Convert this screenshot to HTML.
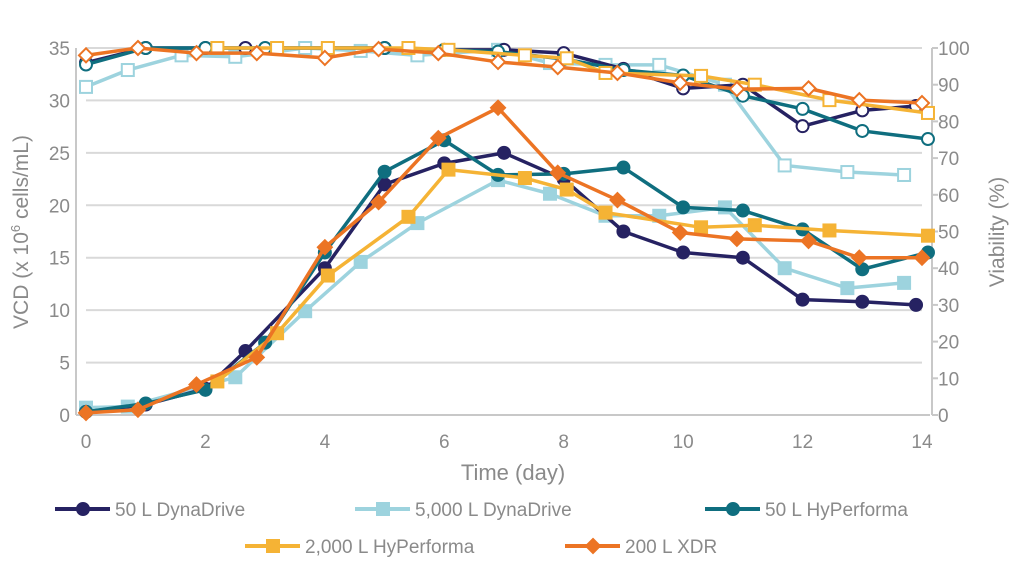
<!DOCTYPE html>
<html><head><meta charset="utf-8"><style>
body{margin:0;background:#fff;}
svg{display:block;font-family:"Liberation Sans",sans-serif;}
</style></head><body>
<svg id="chart" width="1020" height="573" viewBox="0 0 1020 573"></svg>
<script>
const xTicks=[0,2,4,6,8,10,12,14];
const yTicks=[0,5,10,15,20,25,30,35];
const y2Ticks=[0,10,20,30,40,50,60,70,80,90,100];
const seriesNames=["50 L DynaDrive","5,000 L DynaDrive","50 L HyPerforma","2,000 L HyPerforma","200 L XDR"];
const dd50VcdDays=[0,1,2,2.67,4,5,6,7,8,9,10,11,12,13,13.9];
const dd50Vcd=[0.3,1.0,2.5,6.1,14,22,24,25,22.5,17.5,15.5,15,11,10.8,10.5];
const dd50ViaDays=[0,1,2,2.67,5,6,7,8,9,10,11,12,13,13.9];
const dd50Via=[96,100,100,100,100,99.5,99.5,98.6,94.3,89,90,78.7,83,84.2];
const dd5kVcdDays=[0,0.7,2.5,3.67,4.6,5.55,6.9,7.77,8.7,9.6,10.7,11.7,12.75,13.7];
const dd5kVcd=[0.7,0.8,3.6,9.9,14.6,18.3,22.4,21.1,19,19,19.8,14,12.1,12.6];
const dd5kViaDays=[0,0.7,1.6,2.5,3.67,4.6,5.55,6.9,7.77,8.7,9.6,10.7,11.7,12.75,13.7];
const dd5kVia=[89.4,94,98,97.6,100,99.2,98,99.5,95.9,95.4,95.4,90,68,66.2,65.4];
const hp50VcdDays=[0,1,2,3,4,5,6,6.9,8,9,10,11,12,13,14.1];
const hp50Vcd=[0.3,1.1,2.4,6.9,15.5,23.2,26.2,22.9,23,23.6,19.8,19.5,17.7,13.9,15.5];
const hp50ViaDays=[0,1,2,3,5,6,6.9,8,9,10,11,12,13,14.1];
const hp50Via=[95.5,100,100,100,100,99.5,99,97,94,92.5,87,83.4,77.4,75.2];
const hp2kVcdDays=[2.2,3.2,4.05,5.4,6.07,7.35,8.05,8.7,10.3,11.2,12.45,14.1];
const hp2kVcd=[3.2,7.8,13.3,18.9,23.4,22.6,21.5,19.3,17.9,18.1,17.6,17.1];
const hp2kViaDays=[2.2,3.2,4.05,5.4,6.07,7.35,8.05,8.7,10.3,11.2,12.45,14.1];
const hp2kVia=[100,100,100,100,99.5,98,97.2,93.2,92.4,90,85.8,82.3];
const xdrVcdDays=[0,0.87,1.85,2.86,4,4.9,5.9,6.9,7.9,8.9,9.95,10.9,12.1,12.95,14];
const xdrVcd=[0.2,0.5,2.9,5.5,16,20.3,26.4,29.3,23.1,20.5,17.4,16.8,16.6,15,15];
const xdrViaDays=[0,0.87,1.85,2.86,4,4.9,5.9,6.9,7.9,8.9,9.95,10.9,12.1,12.95,14];
const xdrVia=[98,100,98.6,98.6,97.3,99.7,98.6,96.2,94.8,93.2,90.5,88.8,89,85.8,85];

const NS="http://www.w3.org/2000/svg";
const svg=document.getElementById('chart');
const X0=86,X1=922,Y0=415,Y1=48;
const xs=d=>X0+(X1-X0)*d/14;
const ys=v=>Y0-(Y0-Y1)*v/35;
const ys2=v=>Y0-(Y0-Y1)*v/100;
function mk(tag,attrs,parent){const e=document.createElementNS(NS,tag);for(const k in attrs)e.setAttribute(k,attrs[k]);(parent||svg).appendChild(e);return e;}
const grid=mk('g',{});


yTicks.forEach(t=>{if(t>0)mk('line',{x1:X0,x2:X1,y1:ys(t),y2:ys(t),stroke:'#d9d9d9','stroke-width':2},grid);});
const ax=mk('g',{});


mk('line',{x1:X0-10,x2:X1+8,y1:Y0,y2:Y0,stroke:'#c8c8c8','stroke-width':2},ax);
mk('line',{x1:X0-10,x2:X0-10,y1:Y1,y2:Y0,stroke:'#c8c8c8','stroke-width':2},ax);
mk('line',{x1:X1+10,x2:X1+10,y1:Y1,y2:Y0,stroke:'#c8c8c8','stroke-width':2},ax);
function txt(s,x,y,anchor,name,size,parent){const t=mk('text',{x:x,y:y,'text-anchor':anchor,fill:'#8a8a8a','font-size':size||19},parent);t.textContent=s;


return t;}
yTicks.forEach(t=>txt(String(t),70,ys(t)+7,'end','y-tick-label'));
y2Ticks.forEach(t=>{mk('line',{x1:X1+10,x2:X1+16,y1:ys2(t),y2:ys2(t),stroke:'#c8c8c8','stroke-width':2},ax);txt(String(t),938,ys2(t)+7,'start','y2-tick-label');});
xTicks.forEach(t=>txt(String(t),xs(t),448,'middle','x-tick-label'));
txt('Time (day)',513,480,'middle','x-axis-title',22);
const yt=mk('text',{x:0,y:0,'text-anchor':'middle',fill:'#8a8a8a','font-size':21,transform:'translate(28,232) rotate(-90)'});


yt.innerHTML='VCD (x 10<tspan dy="-8" font-size="13">6</tspan><tspan dy="8"> cells/mL)</tspan>';
const yt2=mk('text',{x:0,y:0,'text-anchor':'middle',fill:'#8a8a8a','font-size':21,transform:'translate(1004,232) rotate(-90)'});
yt2.textContent='Viability (%)';



function marker(type,x,y,color,filled,g){
  const f=filled?color:'#fff';
  if(type==='circle')mk('circle',{cx:x,cy:y,r:6,fill:f,stroke:color,'stroke-width':2},g);
  else if(type==='square')mk('rect',{x:x-6,y:y-6,width:12,height:12,fill:f,stroke:color,'stroke-width':2},g);
  else mk('path',{d:`M${x} ${y-7}L${x+7} ${y}L${x} ${y+7}L${x-7} ${y}Z`,fill:f,stroke:color,'stroke-width':2},g);
}
function series(days,vals,scale,color,type,filled,name){
  const g=mk('g',{});
  
  
  const pts=days.map((d,i)=>xs(d)+','+scale(vals[i])).join(' ');
  mk('polyline',{points:pts,fill:'none',stroke:color,'stroke-width':3.5,'stroke-linejoin':'round'},g);
  days.forEach((d,i)=>marker(type,xs(d),scale(vals[i]),color,filled,g));
}
const C=['#262262','#9dd3de','#0f6e7f','#f5b335','#ec7424'];
series(dd5kViaDays,dd5kVia,ys2,C[1],'square',false,'viability-5000l-dynadrive');
series(dd50ViaDays,dd50Via,ys2,C[0],'circle',false,'viability-50l-dynadrive');
series(hp50ViaDays,hp50Via,ys2,C[2],'circle',false,'viability-50l-hyperforma');
series(hp2kViaDays,hp2kVia,ys2,C[3],'square',false,'viability-2000l-hyperforma');
series(xdrViaDays,xdrVia,ys2,C[4],'diamond',false,'viability-200l-xdr');
series(dd5kVcdDays,dd5kVcd,ys,C[1],'square',true,'vcd-5000l-dynadrive');
series(dd50VcdDays,dd50Vcd,ys,C[0],'circle',true,'vcd-50l-dynadrive');
series(hp50VcdDays,hp50Vcd,ys,C[2],'circle',true,'vcd-50l-hyperforma');
series(hp2kVcdDays,hp2kVcd,ys,C[3],'square',true,'vcd-2000l-hyperforma');
series(xdrVcdDays,xdrVcd,ys,C[4],'diamond',true,'vcd-200l-xdr');

const legPos=[[55,509],[355,509],[705,509],[245,546],[565,546]];
const types=['circle','square','circle','square','diamond'];
seriesNames.forEach((n,i)=>{
  const g=mk('g',{});
  
  
  const [x,y]=legPos[i];
  mk('line',{x1:x,x2:x+55,y1:y,y2:y,stroke:C[i],'stroke-width':4},g);
  marker(types[i],x+28,y,C[i],true,g);
  txt(n,x+60,y+7,'start','legend-label',19,g);
});
</script>
</body></html>
